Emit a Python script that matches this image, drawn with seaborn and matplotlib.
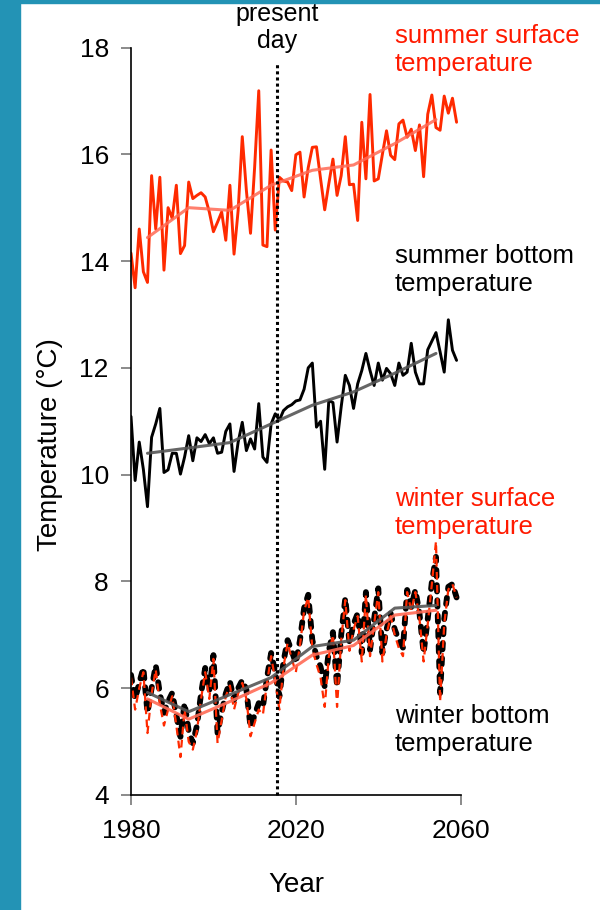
import numpy as np
import pandas as pd
import matplotlib
matplotlib.use("Agg")
import matplotlib.pyplot as plt
from matplotlib.patches import Rectangle
import seaborn as sns

# ---- data -------------------------------------------------------------
years = list(range(1980, 2060))

summer_surface = [
    14.15, 13.50, 14.60, 13.80, 13.60, 15.60, 14.60, 15.57, 13.83, 15.00,
    14.80, 15.42, 14.14, 14.29, 15.48, 15.17, 15.23, 15.28, 15.20, 14.92,
    14.55, 14.73, 14.92, 14.39, 15.42, 14.13, 14.95, 16.33, 15.32, 14.52,
    15.76, 17.19, 14.30, 14.27, 16.08, 14.58, 15.57, 15.50, 15.48, 15.32,
    15.99, 16.04, 15.20, 15.75, 16.13, 16.14, 15.54, 14.96, 15.45, 15.91,
    15.23, 15.60, 16.33, 15.43, 15.44, 14.76, 16.60, 15.54, 17.12, 15.50,
    15.54, 16.00, 16.44, 15.98, 15.90, 16.57, 16.64, 16.32, 16.47, 16.07,
    16.55, 15.58, 16.75, 17.11, 16.50, 16.45, 17.09, 16.77, 17.05, 16.60,
]

summer_bottom = [
    11.09, 9.89, 10.61, 10.10, 9.40, 10.70, 10.95, 11.24, 10.04, 10.09,
    10.40, 10.40, 10.01, 10.33, 10.73, 10.26, 10.69, 10.62, 10.75, 10.58,
    10.69, 10.40, 10.42, 10.81, 10.95, 10.06, 10.61, 10.98, 10.45, 10.67,
    10.48, 11.33, 10.33, 10.23, 10.95, 11.14, 11.02, 11.20, 11.27, 11.31,
    11.38, 11.40, 11.60, 12.00, 12.09, 10.89, 11.00, 10.10, 11.39, 11.35,
    10.61, 11.27, 11.86, 11.67, 11.24, 11.70, 11.95, 12.27, 11.95, 11.67,
    12.09, 11.77, 11.99, 11.89, 11.67, 12.09, 11.86, 11.92, 12.46, 11.92,
    11.70, 11.70, 12.34, 12.50, 12.66, 12.30, 11.92, 12.90, 12.33, 12.14,
]

winter_bottom = [
    6.25, 5.80, 6.10, 6.38, 5.54, 6.00, 6.43, 5.90, 5.54, 5.75,
    5.91, 5.50, 5.09, 5.72, 5.20, 4.97, 5.30, 5.90, 6.38, 5.95,
    6.62, 5.16, 5.55, 5.90, 6.12, 5.78, 6.00, 6.15, 5.97, 5.27,
    5.50, 5.72, 5.65, 6.20, 6.66, 6.30, 5.84, 6.50, 6.90, 6.70,
    6.47, 6.90, 7.50, 7.75, 6.90, 6.60, 6.40, 6.03, 6.70, 7.05,
    6.03, 7.00, 7.69, 6.85, 7.20, 7.40, 6.66, 7.80, 6.72, 7.30,
    7.87, 6.66, 7.10, 7.40, 7.10, 6.90, 6.76, 7.84, 7.52, 7.84,
    7.40, 6.66, 7.30, 7.99, 8.46, 5.91, 7.30, 7.90, 7.95, 7.70,
]

winter_surface = [
    6.20, 5.60, 6.00, 6.30, 5.16, 5.90, 6.35, 5.70, 5.30, 5.60,
    5.85, 5.30, 4.71, 5.60, 5.00, 4.85, 5.20, 5.80, 6.30, 5.80,
    6.55, 4.97, 5.40, 5.85, 6.05, 5.60, 5.90, 6.10, 5.80, 5.10,
    5.35, 5.60, 5.50, 6.10, 6.60, 6.15, 5.60, 6.40, 6.85, 6.55,
    6.30, 6.80, 7.45, 7.70, 6.75, 6.45, 6.20, 5.65, 6.60, 7.00,
    5.65, 6.90, 7.65, 6.70, 7.10, 7.35, 6.50, 7.75, 6.60, 7.20,
    7.80, 6.50, 7.00, 7.35, 7.00, 6.75, 6.60, 7.80, 7.45, 7.80,
    7.30, 6.50, 7.20, 7.95, 8.75, 5.75, 7.20, 7.85, 7.95, 7.70,
]

# decadal trend values
trend_years = [1984, 1994, 2004, 2014, 2024, 2034, 2044, 2054]
summer_surface_trend = [14.44, 15.00, 14.95, 15.42, 15.70, 15.80, 16.20, 16.65]
summer_bottom_trend = [10.40, 10.50, 10.60, 10.95, 11.30, 11.55, 11.90, 12.27]
winter_bottom_trend = [5.92, 5.56, 5.88, 6.20, 6.78, 6.90, 7.50, 7.55]
winter_surface_trend = [5.80, 5.42, 5.75, 6.10, 6.62, 6.80, 7.37, 7.46]

present_day = 2015.5

x_ticks = [1980, 2020, 2060]
y_ticks = [4, 6, 8, 10, 12, 14, 16, 18]

# ---- styling ----------------------------------------------------------
sns.set_theme(style="ticks")
plt.rcParams["font.family"] = ["Liberation Sans", "DejaVu Sans"]
plt.rcParams["text.color"] = "black"
plt.rcParams["axes.labelcolor"] = "black"

RED = "#ff2a00"
RED_TREND = "#ff6a55"
GREY_TREND = "#555555"
LABEL_RED = "#ff1a00"

annual = pd.DataFrame({
    "year": years,
    "summer_surface": summer_surface,
    "summer_bottom": summer_bottom,
    "winter_bottom": winter_bottom,
    "winter_surface": winter_surface,
})
trend = pd.DataFrame({
    "year": trend_years,
    "summer_surface": summer_surface_trend,
    "summer_bottom": summer_bottom_trend,
    "winter_bottom": winter_bottom_trend,
    "winter_surface": winter_surface_trend,
})

fig = plt.figure(figsize=(6, 9.1), dpi=100)
ax = fig.add_axes([131 / 600, 1 - 795 / 910, (460.7 - 131) / 600, (795 - 47.5) / 910])

# winter series: thick black dashes under thin red dashes
sns.lineplot(data=annual, x="year", y="winter_bottom", ax=ax, estimator=None,
             color="black", lw=4.2, linestyle=(0, (1.1, 1.5)),
             dash_capstyle="round", dash_joinstyle="round")
sns.lineplot(data=annual, x="year", y="winter_surface", ax=ax, estimator=None,
             color=RED, lw=1.6, linestyle=(0, (3.5, 2.4)),
             dash_joinstyle="round")
sns.lineplot(data=trend, x="year", y="winter_bottom", ax=ax, estimator=None,
             color=GREY_TREND, lw=2.2, alpha=0.9)
sns.lineplot(data=trend, x="year", y="winter_surface", ax=ax, estimator=None,
             color=RED_TREND, lw=2.2, alpha=0.9)

# summer series
sns.lineplot(data=annual, x="year", y="summer_bottom", ax=ax, estimator=None,
             color="black", lw=2.1)
sns.lineplot(data=trend, x="year", y="summer_bottom", ax=ax, estimator=None,
             color=GREY_TREND, lw=2.2, alpha=0.9)
sns.lineplot(data=annual, x="year", y="summer_surface", ax=ax, estimator=None,
             color=RED, lw=2.1)
sns.lineplot(data=trend, x="year", y="summer_surface", ax=ax, estimator=None,
             color=RED_TREND, lw=2.2, alpha=0.85)

# present-day marker
ax.plot([present_day, present_day], [4, 17.7], color="black", lw=2.2,
        linestyle=(0, (1, 1)), clip_on=False)
ax.text(present_day, 18.38, "present\nday", ha="center", va="center",
        fontsize=18, linespacing=1.15, clip_on=False)

# axes
ax.set_xlim(1980, 2060)
ax.set_ylim(4, 18)
ax.set_xticks(x_ticks)
ax.set_yticks(y_ticks)
ax.set_xlabel("")
ax.set_ylabel("")
sns.despine(ax=ax)
for side in ("left", "bottom"):
    ax.spines[side].set_linewidth(1.2)
    ax.spines[side].set_color("black")
ax.tick_params(axis="both", direction="out", length=7, width=1.2,
               colors="#777777", labelcolor="black", labelsize=19)
ax.tick_params(axis="y", pad=9)
ax.tick_params(axis="x", pad=10)

# series labels
label_kw = dict(fontsize=18.5, linespacing=1.2, ha="left", va="center",
                transform=fig.transFigure)
fig.text(395 / 600, 1 - 50 / 910, "summer surface\ntemperature", color=LABEL_RED, **label_kw)
fig.text(395 / 600, 1 - 270 / 910, "summer bottom\ntemperature", color="black", **label_kw)
fig.text(395 / 600, 1 - 513 / 910, "winter surface\ntemperature", color=LABEL_RED, **label_kw)
fig.text(395 / 600, 1 - 730 / 910, "winter bottom\ntemperature", color="black", **label_kw)

# axis titles
fig.text(50 / 600, 1 - 445 / 910, "Temperature (°C)", rotation=90,
         ha="center", va="center", fontsize=20)
fig.text(296 / 600, 1 - 885 / 910, "Year", ha="center", va="center", fontsize=20)

# coloured frame strips
fig.patches.append(Rectangle((0, 0), 20 / 600, 1, transform=fig.transFigure,
                             color="#2393b5", zorder=0))
fig.patches.append(Rectangle((0, 1 - 3 / 910), 1, 3 / 910, transform=fig.transFigure,
                             color="#2393b5", zorder=0))

fig.savefig("out.png", dpi=100)
